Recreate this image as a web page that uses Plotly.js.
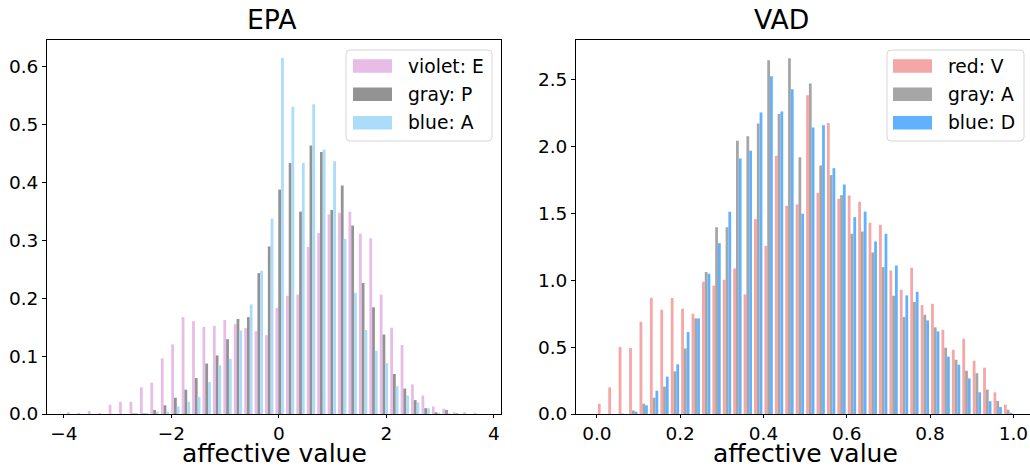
<!DOCTYPE html>
<html>
<head>
<meta charset="utf-8">
<script src="https://cdn.plot.ly/plotly-3.0.1.min.js"></script>
<style>html,body{margin:0;padding:0;background:#fff;}#chart{width:1030px;height:469px;}</style>
</head>
<body>
<div id="chart"></div>
<script>
// ---------- data ----------
// EPA histogram (40 bins), bin centers
const epaBins = [-3.864,-3.670,-3.476,-3.282,-3.088,-2.894,-2.700,-2.506,-2.312,-2.118,
  -1.924,-1.730,-1.536,-1.342,-1.148,-0.954,-0.760,-0.566,-0.372,-0.178,
  0.016,0.210,0.404,0.598,0.792,0.986,1.180,1.374,1.568,1.762,
  1.956,2.150,2.344,2.538,2.732,2.926,3.120,3.314,3.508,3.702];
const epaE = [0.003,0.002,0.005,0.002,0.016,0.021,0.021,0.046,0.054,0.096,
  0.120,0.167,0.160,0.150,0.152,0.162,0.155,0.148,0.143,0.136,
  0.183,0.204,0.206,0.288,0.312,0.344,0.347,0.349,0.311,0.303,
  0.206,0.149,0.119,0.051,0.032,0.013,0.009,0.003,0.003,0.002];
const epaP = [0,0,0,0,0,0,0.001,0.001,0.007,0.015,
  0.028,0.042,0.062,0.087,0.101,0.129,0.164,0.167,0.243,0.289,
  0.387,0.433,0.349,0.463,0.452,0.352,0.394,0.325,0.226,0.184,
  0.137,0.069,0.044,0.024,0.010,0.003,0.007,0.001,0,0];
const epaA = [0,0,0,0,0,0,0.002,0.002,0.004,0.004,
  0.013,0.021,0.029,0.055,0.084,0.095,0.144,0.189,0.247,0.337,
  0.614,0.530,0.433,0.534,0.456,0.436,0.302,0.209,0.145,0.109,
  0.088,0.048,0.032,0.020,0.010,0.002,0.001,0,0,0];

// VAD histogram (40 bins on [0,1]), bin centers
const vadBins = [0.0125,0.0375,0.0625,0.0875,0.1125,0.1375,0.1625,0.1875,0.2125,0.2375,
  0.2625,0.2875,0.3125,0.3375,0.3625,0.3875,0.4125,0.4375,0.4625,0.4875,
  0.5125,0.5375,0.5625,0.5875,0.6125,0.6375,0.6625,0.6875,0.7125,0.7375,
  0.7625,0.7875,0.8125,0.8375,0.8625,0.8875,0.9125,0.9375,0.9625,0.9875];
const vadV = [0.077,0.199,0.500,0.493,0.689,0.868,0.779,0.866,0.786,0.749,
  0.988,0.958,1.002,1.087,0.893,1.455,1.256,1.928,1.555,1.565,
  2.381,1.652,2.174,1.607,1.632,1.585,1.428,1.413,1.072,0.928,
  1.092,0.813,0.823,0.629,0.480,0.562,0.398,0.346,0.162,0.070];
const vadA = [0,0,0.003,0.027,0.077,0.122,0.204,0.318,0.490,0.714,
  1.060,1.395,1.395,2.040,2.075,2.169,2.642,2.241,2.657,1.918,
  2.468,1.856,1.784,1.634,1.346,1.363,1.206,1.097,0.883,0.724,
  0.836,0.741,0.647,0.495,0.405,0.323,0.305,0.182,0.097,0.032];
const vadD = [0,0,0,0.017,0.065,0.174,0.279,0.371,0.612,0.714,
  1.047,1.276,1.510,1.908,1.965,2.251,2.522,2.259,2.425,1.495,
  2.139,2.157,1.836,1.714,1.470,1.512,1.289,1.346,1.109,0.886,
  0.913,0.699,0.617,0.428,0.368,0.266,0.162,0.095,0.052,0.010];

const epaNames = ["violet: E","gray: P","blue: A"];
const vadNames = ["red: V","gray: A","blue: D"];
const epaXTicks = [-4,-2,0,2,4];
const epaYTicks = [0,0.1,0.2,0.3,0.4,0.5,0.6];
const vadXTicks = [0,0.2,0.4,0.6,0.8,1.0];
const vadYTicks = [0,0.5,1.0,1.5,2.0,2.5];

// ---------- styling ----------
const W = 1030, H = 469;
const FONT = "DejaVu Sans";
const epaColors = ["#e7bce7","#939393","#abddfb"];
const vadColors = ["#f5a6a6","#a6a6a6","#61b1ff"];
const px = x => x / W;
const py = y => (H - y) / H;

const traces = [];
[epaE, epaP, epaA].forEach((v, i) => traces.push({
  type: "bar", x: epaBins, y: v, name: epaNames[i], xaxis: "x", yaxis: "y",
  marker: {color: epaColors[i], line: {width: 0}}, showlegend: false, hoverinfo: "skip"
}));
[vadV, vadA, vadD].forEach((v, i) => traces.push({
  type: "bar", x: vadBins, y: v, name: vadNames[i], xaxis: "x2", yaxis: "y2",
  marker: {color: vadColors[i], line: {width: 0}}, showlegend: false, hoverinfo: "skip"
}));

const tickFont = {family: FONT, size: 18.5, color: "#000"};
const axBase = {
  showgrid: false, zeroline: false, showline: true, linecolor: "#000", linewidth: 1,
  ticks: "outside", ticklen: 4, tickwidth: 1, tickcolor: "#000", tickfont: tickFont
};

// plot areas in pixels
const L = {x0: 47, x1: 501, y0: 40, y1: 414};
const R = {x0: 576, x1: 1030, y0: 40, y1: 414};

function roundRect(x0, y0, x1, y1, r) {
  const rx = r / W, ry = r / H;
  const a = px(x0), b = px(x1), t = py(y0), u = py(y1);
  return `M${a+rx},${t} L${b-rx},${t} Q${b},${t} ${b},${t-ry} L${b},${u+ry} Q${b},${u} ${b-rx},${u} ` +
         `L${a+rx},${u} Q${a},${u} ${a},${u+ry} L${a},${t-ry} Q${a},${t} ${a+rx},${t} Z`;
}

const shapes = [];
const annotations = [];
function legend(box, patchX0, patchX1, textX, names, colors) {
  shapes.push({type: "path", xref: "paper", yref: "paper", path: roundRect(box[0], box[1], box[2], box[3], 4),
    fillcolor: "rgba(255,255,255,0.8)", line: {color: "#d6d6d6", width: 1}});
  const rows = [66, 94.3, 122.7];
  names.forEach((n, i) => {
    shapes.push({type: "rect", xref: "paper", yref: "paper",
      x0: px(patchX0), x1: px(patchX1), y0: py(rows[i] + 6.7), y1: py(rows[i] - 6.7),
      fillcolor: colors[i], line: {width: 0}});
    annotations.push({xref: "paper", yref: "paper", x: px(textX), y: py(rows[i]),
      xanchor: "left", yanchor: "middle", showarrow: false, text: n,
      font: {family: FONT, size: 18.7, color: "#000"}});
  });
}
legend([346, 50, 492, 141], 353, 392, 406, epaNames, epaColors);
legend([887, 50, 1024, 141], 893, 932, 946, vadNames, vadColors);

// titles and axis labels
[["EPA", 272], ["VAD", 781]].forEach(([t, cx]) =>
  annotations.push({xref: "paper", yref: "paper", x: px(cx), y: py(20), xanchor: "center", yanchor: "middle",
    showarrow: false, text: t, font: {family: FONT, size: 26.7, color: "#000"}}));
[(L.x0 + L.x1) / 2, (576 + 1034) / 2].forEach(cx =>
  annotations.push({xref: "paper", yref: "paper", x: px(cx), y: py(468.5), xanchor: "center", yanchor: "bottom",
    showarrow: false, text: "affective value", borderpad: 0, font: {family: FONT, size: 25, color: "#000"}}));

const layout = {
  width: W, height: H, margin: {l: 0, r: 0, t: 0, b: 0},
  paper_bgcolor: "#fff", plot_bgcolor: "#fff",
  barmode: "group", bargap: 0.2, bargroupgap: 0,
  showlegend: false,
  font: {family: FONT, color: "#000"},
  xaxis: Object.assign({}, axBase, {domain: [px(L.x0), px(L.x1)], range: [-4.313, 4.134],
    tickvals: epaXTicks, mirror: true, anchor: "y", ticklen: 3}),
  yaxis: Object.assign({}, axBase, {domain: [py(L.y1), py(L.y0)], range: [0, 0.645],
    tickvals: epaYTicks, tickformat: ".1f", mirror: true, anchor: "x"}),
  xaxis2: Object.assign({}, axBase, {domain: [px(R.x0), 1], range: [-0.05, 1.04],
    tickvals: vadXTicks, tickformat: ".1f", mirror: true, anchor: "y2", ticklen: 3}),
  yaxis2: Object.assign({}, axBase, {domain: [py(R.y1), py(R.y0)], range: [0, 2.793],
    tickvals: vadYTicks, tickformat: ".1f", mirror: false, anchor: "x2"}),
  shapes: shapes,
  annotations: annotations
};

Plotly.newPlot("chart", traces, layout, {staticPlot: true, displayModeBar: false});
</script>
</body>
</html>
